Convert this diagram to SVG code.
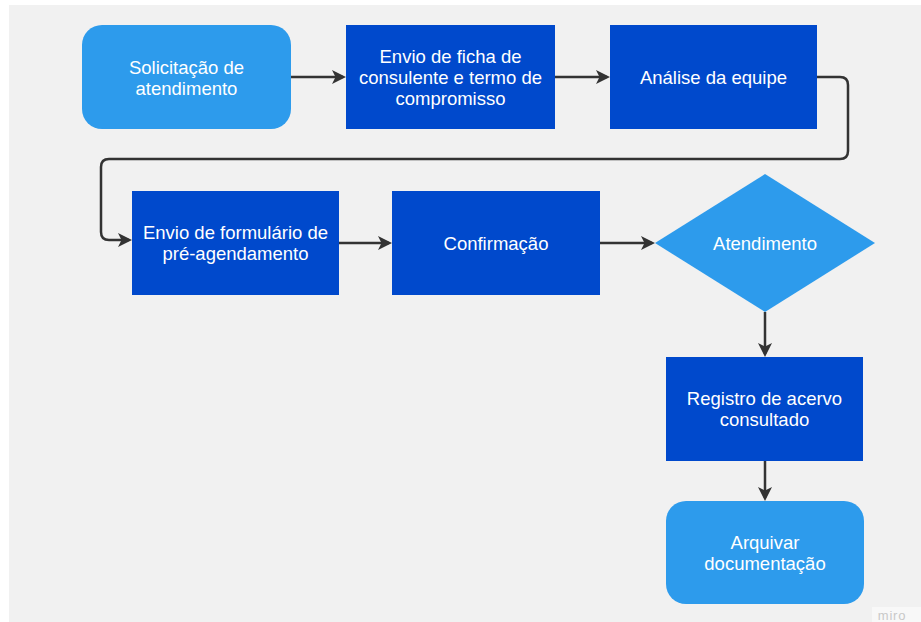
<svg xmlns="http://www.w3.org/2000/svg" width="921" height="622" viewBox="0 0 921 622">
  <defs>
    <marker id="arrow" markerUnits="userSpaceOnUse" markerWidth="15" markerHeight="15" refX="11" refY="7" orient="auto">
      <path d="M0,0 L14,7 L0,14 L3.5,7 z" fill="#333333"/>
    </marker>
  </defs>
  <style>
    .light { fill: #2d9bec; }
    .dark { fill: #0049cc; }
    .label { font-family: "Liberation Sans", Arial, sans-serif; font-size: 18.5px; fill: #ffffff; text-anchor: middle; }
    .conn { fill: none; stroke: #333333; stroke-width: 2.5; marker-end: url(#arrow); }
  </style>
  <rect x="0" y="0" width="921" height="622" fill="#ffffff"/>
  <rect x="9" y="5" width="912" height="617" fill="#f1f1f1"/>

  <g id="connectors">
    <path class="conn" d="M291,77 H343"/>
    <path class="conn" d="M555,77 H607"/>
    <path class="conn" d="M817,77 H840 Q848,77 848,85 V151 Q848,159 840,159 H109 Q101,159 101,167 V232 Q101,240 109,240 H129"/>
    <path class="conn" d="M339,243 H389"/>
    <path class="conn" d="M600,243 H652"/>
    <path class="conn" d="M765,312 V354"/>
    <path class="conn" d="M765,461 V498"/>
  </g>

  <g id="solicitacao">
    <rect class="light" x="82" y="25" width="209" height="104" rx="20" ry="20"/>
    <text class="label" x="186.5" y="74">Solicitação de</text>
    <text class="label" x="186.5" y="95">atendimento</text>
  </g>

  <g id="envio-ficha">
    <rect class="dark" x="346" y="25" width="209" height="104"/>
    <text class="label" x="450.5" y="63">Envio de ficha de</text>
    <text class="label" x="450.5" y="84">consulente e termo de</text>
    <text class="label" x="450.5" y="105">compromisso</text>
  </g>

  <g id="analise">
    <rect class="dark" x="610" y="25" width="207" height="104"/>
    <text class="label" x="713.5" y="83.5">Análise da equipe</text>
  </g>

  <g id="envio-formulario">
    <rect class="dark" x="132" y="191" width="207" height="104"/>
    <text class="label" x="235.5" y="239">Envio de formulário de</text>
    <text class="label" x="235.5" y="260">pré-agendamento</text>
  </g>

  <g id="confirmacao">
    <rect class="dark" x="392" y="191" width="208" height="104"/>
    <text class="label" x="496" y="249.5">Confirmação</text>
  </g>

  <g id="atendimento">
    <polygon class="light" points="765,174 875,243 765,312 655,243"/>
    <text class="label" x="765" y="249.5">Atendimento</text>
  </g>

  <g id="registro">
    <rect class="dark" x="666" y="357" width="197" height="104"/>
    <text class="label" x="764.5" y="405">Registro de acervo</text>
    <text class="label" x="764.5" y="426">consultado</text>
  </g>

  <g id="arquivar">
    <rect class="light" x="666" y="501" width="198" height="103" rx="20" ry="20"/>
    <text class="label" x="765" y="549">Arquivar</text>
    <text class="label" x="765" y="570">documentação</text>
  </g>

  <g id="watermark">
    <rect x="872" y="607" width="49" height="15" fill="#f8f8f8"/>
    <text x="892" y="620" font-family="Liberation Sans, Arial, sans-serif" font-size="13" letter-spacing="0.8" fill="#c8c8c8" text-anchor="middle">miro</text>
  </g>
</svg>
